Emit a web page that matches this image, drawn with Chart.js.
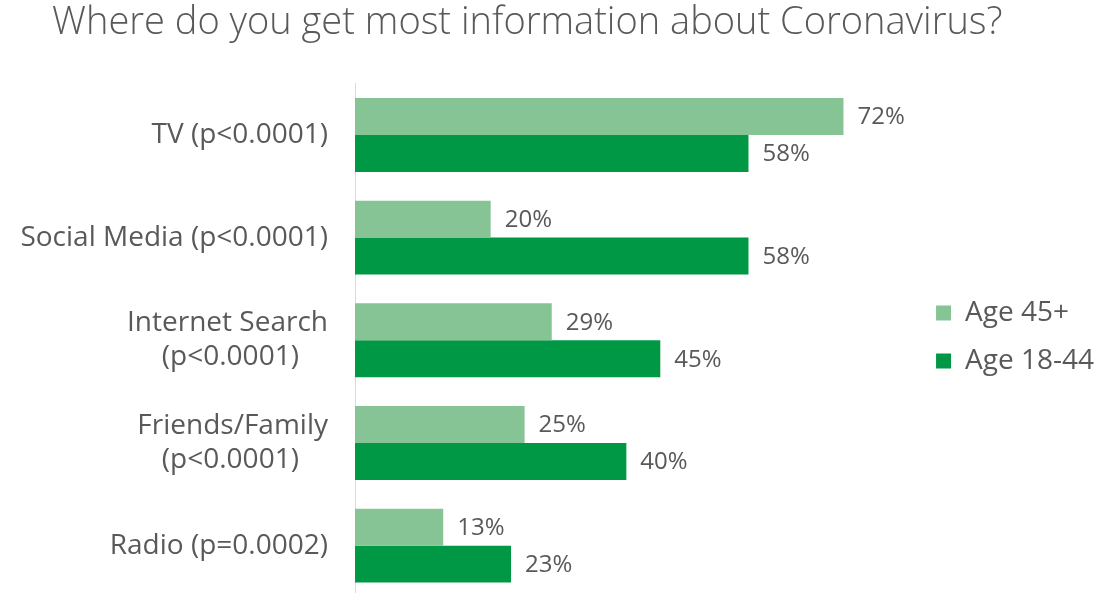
<!DOCTYPE html>
<html>
<head>
<meta charset="utf-8">
<script src="https://cdn.jsdelivr.net/npm/chart.js@4/dist/chart.umd.min.js"></script>
<style>
  html, body { margin: 0; padding: 0; background: #fff; overflow: hidden; }
  /* a little taller than the window: the bottom axis runs off the edge like in the original */
  #wrap { width: 1112px; height: 597px; }
</style>
</head>
<body>
<div id="wrap"><canvas id="myChart"></canvas></div>
<script>
const categories = [
    'TV (p<0.0001)',
    'Social Media (p<0.0001)',
    ['Internet Search', '(p<0.0001)'],
    ['Friends/Family', '(p<0.0001)'],
    'Radio (p=0.0002)'
];
const older = [72, 20, 29, 25, 13];
const younger = [58, 58, 45, 40, 23];
const seriesNames = ['Age 45+', 'Age 18-44'];
const titleText = 'Where do you get most information about Coronavirus?';

const FONT = "'Open Sans', 'DejaVu Sans', sans-serif";
const TEXT = '#595959';

// value labels at the end of every bar
const barLabels = {
    id: 'barLabels',
    afterDatasetsDraw(chart) {
        const ctx = chart.ctx;
        ctx.save();
        ctx.font = '24px ' + FONT;
        ctx.fillStyle = TEXT;
        ctx.textAlign = 'left';
        ctx.textBaseline = 'middle';
        chart.data.datasets.forEach((ds, i) => {
            chart.getDatasetMeta(i).data.forEach((bar, j) => {
                ctx.fillText(ds.data[j] + '%', bar.x + 14, bar.y + 1);
            });
        });
        ctx.restore();
    }
};

const ctx = document.getElementById('myChart');

new Chart(ctx, {
    type: 'bar',
    data: {
        labels: categories,
        datasets: [{
            label: seriesNames[0],
            data: older,
            backgroundColor: '#86C496'
        }, {
            label: seriesNames[1],
            data: younger,
            backgroundColor: '#009844'
        }]
    },
    options: {
        indexAxis: 'y',
        responsive: true,
        maintainAspectRatio: false,
        animation: false,
        categoryPercentage: 0.72,
        barPercentage: 1.0,
        layout: { padding: { left: 0, right: 8, top: 0, bottom: 0 } },
        scales: {
            x: {
                display: false,
                min: 0,
                max: 82.7
            },
            y: {
                afterFit(scale) {
                    scale.width = 355;
                    scale.paddingTop = 0;
                    scale.paddingBottom = 0;
                },
                grid: { display: false, drawTicks: false },
                border: { display: true, color: '#d9d9d9', width: 1 },
                ticks: {
                    padding: 27,
                    color: TEXT,
                    font: { family: FONT, size: 28 },
                    callback: function (value) {
                        const l = categories[value];
                        // second line sits centred under the first one
                        return Array.isArray(l) ? [l[0], l[1] + '    '] : l;
                    }
                }
            }
        },
        plugins: {
            title: {
                display: true,
                // trailing spaces pull the centred title a bit to the left
                text: titleText + '\u00A0\u00A0\u00A0\u00A0\u00A0',
                color: TEXT,
                font: { family: FONT, size: 38, weight: '300' },
                padding: { top: 0, bottom: 38 }
            },
            legend: {
                position: 'right',
                align: 'center',
                title: {
                    // empty title, only used to push the items down to mid plot
                    display: true,
                    text: ' ',
                    font: { size: 10 },
                    padding: { top: 65, bottom: 0 }
                },
                labels: {
                    color: TEXT,
                    font: { family: FONT, size: 28 },
                    boxWidth: 15,
                    boxHeight: 15,
                    padding: 20
                }
            },
            tooltip: { enabled: false }
        }
    },
    plugins: [barLabels]
});
</script>
</body>
</html>
